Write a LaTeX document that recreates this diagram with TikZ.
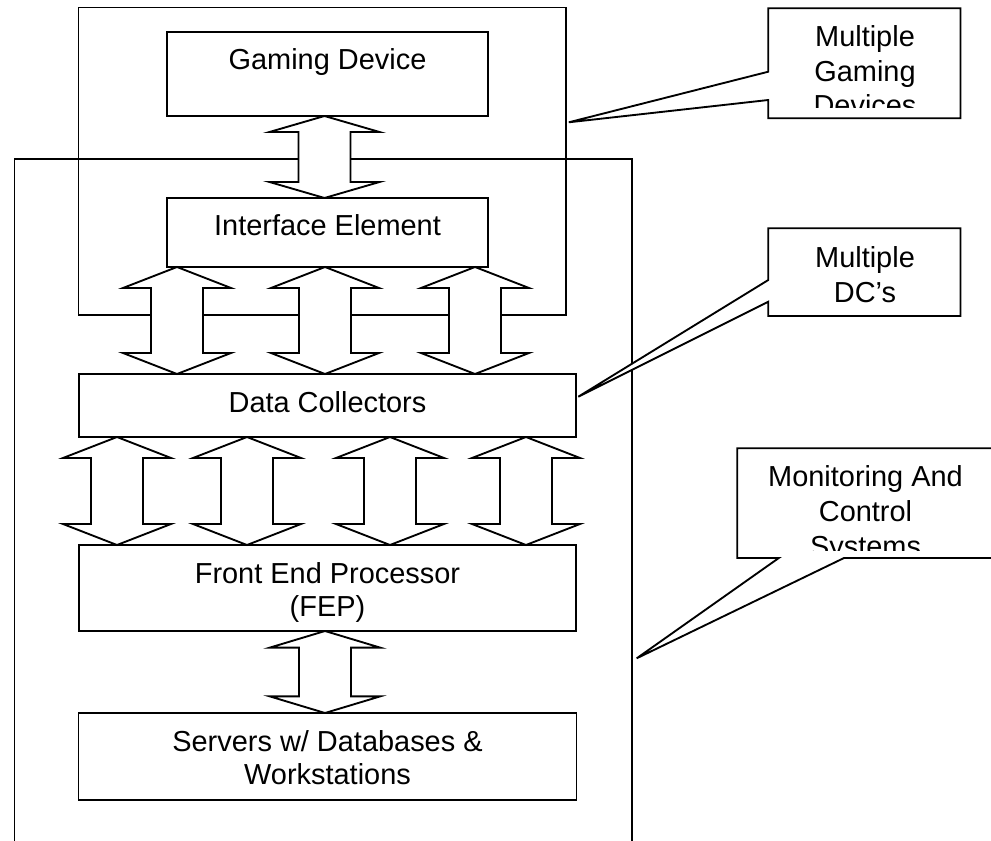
\documentclass[tikz,border=0pt]{standalone}
\usepackage{fontspec}
\setmainfont{Liberation Sans}
\usetikzlibrary{calc}
\newcommand\dbarrow[4]{%
  \draw[blockarrow] let \p1=#1, \p2=#2 in
    (\x1,\y1) -- (\x1+#4,\y1-#3) -- (\x1+19.5pt,\y1-#3) -- (\x1+19.5pt,\y2+#3)
    -- (\x1+#4,\y2+#3) -- (\x1,\y2) -- (\x1-#4,\y2+#3) -- (\x1-19.5pt,\y2+#3)
    -- (\x1-19.5pt,\y1-#3) -- (\x1-#4,\y1-#3) -- cycle;}
\begin{document}
\begin{tikzpicture}[x=0.75pt,y=-0.75pt,
  ln/.style={line width=1.4pt},
  box/.style={draw,ln,fill=white,inner sep=0pt,outer sep=0pt,anchor=north west},
  frame/.style={draw,ln,inner sep=0pt,outer sep=0pt,anchor=north west},
  blockarrow/.style={draw,ln,fill=white,line join=miter},
  callout/.style={draw,ln,fill=white,line join=miter},
  txt/.style={font=\fontsize{21.7}{25}\selectfont,inner sep=0pt,anchor=base,align=center},
  ctxt/.style={font=\fontsize{21.7}{26}\selectfont,inner sep=0pt,anchor=base,align=center}]
\useasboundingbox[fill=white] (0,0) rectangle (991,841);

% containers
\node[frame,minimum width=365.3pt,minimum height=230.6pt] (gdev) at (78.5,7.5) {};
\draw[ln] (14.5,860) -- (14.5,159) -- (632,159) -- (632,860);

% boxes
\node[box,minimum width=240.75pt,minimum height=63pt] (gd) at (167,32) {};
\node[box,minimum width=240.75pt,minimum height=51.75pt] (ie) at (167,198) {};
\node[box,minimum width=372.75pt,minimum height=47.25pt] (dc) at (79,374) {};
\node[box,minimum width=372.75pt,minimum height=64.5pt] (fep) at (79,545) {};
\node[box,minimum width=373.5pt,minimum height=65.25pt] (srv) at (78.5,713) {};

% arrow columns
\coordinate (a0) at (324.5,0);
\coordinate (b1) at (177,0);
\coordinate (b2) at (325,0);
\coordinate (b3) at (475,0);
\coordinate (d1) at (117,0);
\coordinate (d2) at (247,0);
\coordinate (d3) at (390,0);
\coordinate (d4) at (526,0);
\coordinate (e0) at (325,0);

\dbarrow{(gd.south -| a0)}{(ie.north -| a0)}{12pt}{41.25pt}
\dbarrow{(ie.south -| b1)}{(dc.north -| b1)}{15.75pt}{40.5pt}
\dbarrow{(ie.south -| b2)}{(dc.north -| b2)}{15.75pt}{40.5pt}
\dbarrow{(ie.south -| b3)}{(dc.north -| b3)}{15.75pt}{40.5pt}
\dbarrow{(dc.south -| d1)}{(fep.north -| d1)}{15.75pt}{40.5pt}
\dbarrow{(dc.south -| d2)}{(fep.north -| d2)}{15.75pt}{40.5pt}
\dbarrow{(dc.south -| d3)}{(fep.north -| d3)}{15.75pt}{40.5pt}
\dbarrow{(dc.south -| d4)}{(fep.north -| d4)}{15.75pt}{40.5pt}
\dbarrow{(fep.south -| e0)}{(srv.north -| e0)}{12.5pt}{41.5pt}

% box texts (anchor base = baseline of last line)
\node[txt] (gdt) at (327.5,70) {Gaming Device};
\node[txt] (iet) at (327.5,236) {Interface Element};
\node[txt] (dct) at (327.5,412.7) {Data Collectors};
\node[txt] (fept) at (327.5,616.7) {Front End Processor\\(FEP)};
\node[txt] (srvt) at (327.5,784.5) {Servers w/ Databases \&\\Workstations};

% callouts
\coordinate (tip1) at (568.8,122.3);
\coordinate (tip2) at (578.3,396.7);
\coordinate (tip3) at (636.7,658.3);
\draw[callout] (768.3,71.7) -- (768.3,8.3) -- (960.5,8.3) -- (960.5,118.3)
  -- (768.3,118.3) -- (768.3,100) -- (tip1) -- cycle;
\begin{scope}
  \clip (768.3,8.3) rectangle (960.5,108);
  \node[ctxt] (c1t) at (865,115.7) {Multiple\\Gaming\\Devices};
\end{scope}
\draw[callout] (768.3,280) -- (768.3,228.3) -- (960.5,228.3) -- (960.5,316)
  -- (768.3,316) -- (768.3,301.7) -- (tip2) -- cycle;
\node[ctxt] (c2t) at (865,302) {Multiple\\DC’s};
\draw[callout] (737.3,448.3) -- (1000,448.3) -- (1000,558) -- (844,558)
  -- (tip3) -- (778.8,558) -- (737.3,558) -- cycle;
\begin{scope}
  \clip (737.3,448.3) rectangle (991,550);
  \node[ctxt] (c3t) at (865.5,556) {Monitoring And\\Control\\Systems};
\end{scope}
\end{tikzpicture}
\end{document}
